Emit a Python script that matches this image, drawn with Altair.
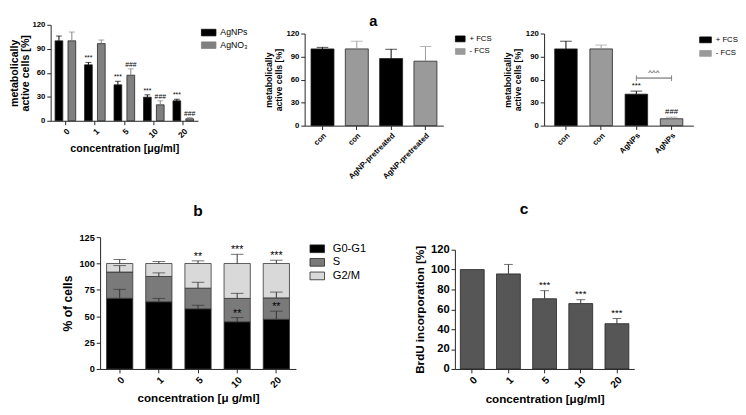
import altair as alt
import pandas as pd

FONT = "Liberation Sans"

# ---------------- panel a (left): metabolic activity vs concentration ----------------
conc = ["0", "1", "5", "10", "20"]
a1_groups = ["AgNPs", "AgNO₃"]
agnp_mean = [100, 70, 45, 29.5, 25]
agnp_sd = [6, 3, 4.4, 3, 2]
agno3_mean = [100, 96.5, 57, 20, 2.5]
agno3_sd = [11, 4.5, 8, 5, 1.5]
agnp_sig = ["", "***", "***", "***", "***"]
agno3_sig = ["", "", "###", "###", "###"]

# ---------------- panel a (middle) ----------------
fcs_groups = ["+ FCS", "- FCS"]
a2_keys = ["con|+", "con|-", "AgNP-pretreated|+", "AgNP-pretreated|-"]
a2_fcs = ["+ FCS", "- FCS", "+ FCS", "- FCS"]
a2_mean = [100, 100, 87.5, 84]
a2_sd = [2, 10, 12, 19]

# ---------------- panel a (right) ----------------
a3_keys = ["con|+", "con|-", "AgNPs|+", "AgNPs|-"]
a3_fcs = ["+ FCS", "- FCS", "+ FCS", "- FCS"]
a3_mean = [100, 100, 41, 9]
a3_sd = [10, 5, 4, 2]
a3_sig = ["", "", "***", "###"]
a3_bracket_from = "AgNPs|+"
a3_bracket_to = "AgNPs|-"
a3_bracket_value = 62
a3_bracket_sig = "^^^"

# ---------------- panel b: cell cycle ----------------
phases = ["G0-G1", "S", "G2/M"]
g0g1 = [67, 63.7, 57, 44.7, 47.1]
g0g1_sd = [8.5, 3.2, 3.4, 4, 7.7]
g0g1_sig = ["", "", "", "**", "**"]
s_phase = [24.9, 24, 19.6, 22.2, 20.3]
s_sd = [6.1, 3.4, 5.6, 4.8, 5.5]
s_sig = ["", "", "", "", ""]
g2m = [8.1, 12.3, 23.4, 33.1, 32.6]
g2m_sd = [3.8, 1.9, 2.5, 8.7, 3.1]
g2m_sig = ["", "", "**", "***", "***"]

# ---------------- panel c: BrdU ----------------
c_mean = [100, 95.7, 70.7, 65.8, 45.6]
c_sd = [0, 9.5, 8.1, 3.9, 5.2]
c_sig = ["", "", "***", "***", "***"]

LBL = "split(datum.label, '|')[0]"


def rect_symbol(h):
    return "M-1,-%sH1V%sH-1Z" % (h, h)


def spacer(w, h):
    return alt.Chart(pd.DataFrame({"s": [0]})).mark_text(text="").encode(
        x=alt.value(0), y=alt.value(0)).properties(width=w, height=h)


# ======== panel a1 ========
df1 = pd.DataFrame({
    "conc": conc * 2,
    "group": [a1_groups[0]] * 5 + [a1_groups[1]] * 5,
    "mean": agnp_mean + agno3_mean,
    "sd": agnp_sd + agno3_sd,
    "sig": agnp_sig + agno3_sig,
})
df1["top"] = df1["mean"] + df1["sd"]

x1 = alt.X("conc:N", sort=conc, scale=alt.Scale(domain=conc, paddingInner=0.3, paddingOuter=0.15),
           axis=alt.Axis(title="concentration [μg/ml]", labelAngle=-45, labelFontSize=8.5,
                         titleFontSize=11, titlePadding=4))
xo1 = alt.XOffset("group:N", sort=a1_groups, scale=alt.Scale(domain=a1_groups, paddingInner=0.4))
ys1 = alt.Scale(domain=[0, 120], nice=False)
ya1 = alt.Axis(values=[0, 30, 60, 90, 120], title=["metabolically", "active cells [%]"],
               titleFontSize=11, titleLineHeight=12, labelFontSize=8, titlePadding=1,
               labelOverlap=False)
col1_scale = alt.Scale(domain=a1_groups, range=["#000000", "#808080"])
c1 = alt.Color("group:N", sort=a1_groups, scale=col1_scale,
               legend=alt.Legend(title=None, orient="right", offset=3, labelFontSize=9,
                                 symbolType=rect_symbol(0.45), symbolSize=225,
                                 symbolStrokeColor="#222", symbolStrokeWidth=0.8,
                                 rowPadding=0, labelOffset=4, padding=0))
c1n = alt.Color("group:N", sort=a1_groups, scale=col1_scale, legend=None)
base1 = alt.Chart(df1).encode(x=x1, xOffset=xo1)
p1 = alt.layer(
    base1.mark_bar(stroke="#222", strokeWidth=0.8).encode(
        y=alt.Y("mean:Q", scale=ys1, axis=ya1), color=c1),
    base1.mark_rule(strokeWidth=1).encode(
        y=alt.Y("mean:Q", scale=ys1, axis=ya1), y2="top:Q", color=c1n),
    base1.mark_tick(thickness=1, size=6).encode(
        y=alt.Y("top:Q", scale=ys1, axis=ya1), color=c1n),
    base1.mark_text(font=FONT, fontSize=7, baseline="bottom", dy=-1, color="black").encode(
        y=alt.Y("top:Q", scale=ys1, axis=ya1), text="sig:N"),
).properties(width=152, height=99)


# ======== panels a2 / a3 ========
def fcs_panel(keys, fcs, mean, sd, sig, pin, pout, legend_offset, sym_h, sym_size):
    df = pd.DataFrame({"key": keys, "fcs": fcs, "mean": mean, "sd": sd, "sig": sig})
    df["top"] = df["mean"] + df["sd"]
    xs = alt.Scale(domain=keys, paddingInner=pin, paddingOuter=pout)
    x = alt.X("key:N", sort=keys, scale=xs,
              axis=alt.Axis(title=None, labelAngle=-45, labelExpr=LBL, labelFontSize=8))
    ys = alt.Scale(domain=[0, 120], nice=False)
    ya = alt.Axis(values=[0, 30, 60, 90, 120], title=["metabolically", "active cells [%]"],
                  titleFontSize=9, titleLineHeight=10, labelFontSize=8, titlePadding=3,
                  labelOverlap=False)
    sc = alt.Scale(domain=fcs_groups, range=["#000000", "#9a9a9a"])
    col = alt.Color("fcs:N", sort=fcs_groups, scale=sc,
                    legend=alt.Legend(title=None, orient="right", offset=legend_offset, labelFontSize=8,
                                      symbolType=rect_symbol(sym_h), symbolSize=sym_size,
                                      symbolStrokeColor="#222", symbolStrokeWidth=0.8,
                                      rowPadding=2, labelOffset=4, padding=0))
    coln = alt.Color("fcs:N", sort=fcs_groups, scale=sc, legend=None)
    base = alt.Chart(df).encode(x=x)
    layers = [
        base.mark_bar(stroke="#222", strokeWidth=0.8).encode(
            y=alt.Y("mean:Q", scale=ys, axis=ya), color=col),
        base.mark_rule(strokeWidth=1).encode(
            y=alt.Y("mean:Q", scale=ys, axis=ya), y2="top:Q", color=coln),
        base.mark_tick(thickness=1, size=12).encode(
            y=alt.Y("top:Q", scale=ys, axis=ya), color=coln),
        base.mark_text(font=FONT, fontSize=8, baseline="bottom", dy=-1, color="black").encode(
            y=alt.Y("top:Q", scale=ys, axis=ya), text="sig:N"),
    ]
    return layers, xs, ys, ya


l2, _, _, _ = fcs_panel(a2_keys, a2_fcs, a2_mean, a2_sd, [""] * 4, 0.33, 0.185, 12, 0.6, 100)
p2 = alt.layer(*l2).properties(width=143, height=95)

l3, x3s, y3s, y3a = fcs_panel(a3_keys, a3_fcs, a3_mean, a3_sd, a3_sig, 0.36, 0.3, 6, 0.5, 144)
br_df = pd.DataFrame({"a": [a3_bracket_from], "b": [a3_bracket_to], "v": [a3_bracket_value],
                      "t": [a3_bracket_sig]})
cap_df = pd.DataFrame({"key": [a3_bracket_from, a3_bracket_to], "v": [a3_bracket_value] * 2})
bracket = alt.Chart(br_df).mark_rule(color="#555", strokeWidth=1).encode(
    x=alt.X("a:N", scale=x3s), x2="b:N", y=alt.Y("v:Q", scale=y3s, axis=y3a))
bracket_caps = alt.Chart(cap_df).mark_tick(color="#555", orient="vertical", size=6, thickness=1).encode(
    x=alt.X("key:N", scale=x3s), y=alt.Y("v:Q", scale=y3s, axis=y3a))
bracket_txt = alt.Chart(br_df).mark_text(
    font=FONT, fontSize=8, baseline="bottom", dy=-1, dx=18, color="#222").encode(
    x=alt.X("a:N", scale=x3s), y=alt.Y("v:Q", scale=y3s, axis=y3a), text="t:N")
p3 = alt.layer(*l3, bracket, bracket_caps, bracket_txt).properties(width=154, height=95)

# ======== panel b ========
b_rows = []
for ph, vals, sds, sigs in [("G0-G1", g0g1, g0g1_sd, g0g1_sig), ("S", s_phase, s_sd, s_sig),
                            ("G2/M", g2m, g2m_sd, g2m_sig)]:
    for c, v, s, g in zip(conc, vals, sds, sigs):
        b_rows.append({"conc": c, "phase": ph, "value": v, "sd": s, "sig": g})
dfb = pd.DataFrame(b_rows)
dfb["end"] = dfb.groupby("conc")["value"].cumsum()
dfb["start"] = dfb["end"] - dfb["value"]
dfb["top"] = dfb["end"] + dfb["sd"]

xb = alt.X("conc:N", sort=conc, scale=alt.Scale(domain=conc, paddingInner=0.33, paddingOuter=0.165),
           axis=alt.Axis(title="concentration [μ g/ml]", labelAngle=-45, labelFontSize=10,
                         titleFontSize=12, titlePadding=4))
ybs = alt.Scale(domain=[0, 125], nice=False)
yba = alt.Axis(values=[0, 25, 50, 75, 100, 125], title="% of cells", titleFontSize=12.5,
               labelFontSize=9.5, titlePadding=5, labelOverlap=False)
bsc = alt.Scale(domain=phases, range=["#000000", "#7a7a7a", "#d9d9d9"])
cb = alt.Color("phase:N", sort=phases, scale=bsc,
               legend=alt.Legend(title=None, orient="right", offset=10, labelFontSize=11.5,
                                 symbolType=rect_symbol(0.53), symbolSize=225,
                                 symbolStrokeColor="#222", symbolStrokeWidth=0.8,
                                 rowPadding=0, labelOffset=8, padding=4))
baseb = alt.Chart(dfb).encode(x=xb)
pb = alt.layer(
    baseb.mark_bar(stroke="#333", strokeWidth=0.8).encode(
        y=alt.Y("start:Q", scale=ybs, axis=yba), y2="end:Q", color=cb),
    baseb.mark_rule(color="#333", strokeWidth=1).encode(
        y=alt.Y("end:Q", scale=ybs, axis=yba), y2="top:Q"),
    baseb.mark_tick(color="#333", thickness=1, size=13).encode(
        y=alt.Y("top:Q", scale=ybs, axis=yba)),
    baseb.mark_text(font=FONT, fontSize=11, baseline="bottom", dy=1, color="black").encode(
        y=alt.Y("top:Q", scale=ybs, axis=yba), text="sig:N"),
).properties(width=202, height=136,
             title=alt.TitleParams("b", anchor="middle", fontSize=16, offset=14))

# ======== panel c ========
dfc = pd.DataFrame({"conc": conc, "mean": c_mean, "sd": c_sd, "sig": c_sig})
dfc["top"] = dfc["mean"] + dfc["sd"]
xc = alt.X("conc:N", sort=conc, scale=alt.Scale(domain=conc, paddingInner=0.34, paddingOuter=0.15),
           axis=alt.Axis(title="concentration [μg/ml]", labelAngle=-45, labelFontSize=10.5,
                         titleFontSize=12, titlePadding=4))
ycs = alt.Scale(domain=[0, 120], nice=False)
yca = alt.Axis(values=[0, 20, 40, 60, 80, 100, 120], title="BrdU incorporation [%]",
               titleFontSize=12, labelFontSize=11.5, titlePadding=4, labelOverlap=False)
basec = alt.Chart(dfc).encode(x=xc)
errc = alt.Chart(dfc).transform_filter("datum.sd > 0").encode(x=xc)
pc = alt.layer(
    basec.mark_bar(color="#565656", stroke="#222", strokeWidth=0.8).encode(
        y=alt.Y("mean:Q", scale=ycs, axis=yca)),
    errc.mark_rule(color="#333", strokeWidth=1).encode(
        y=alt.Y("mean:Q", scale=ycs, axis=yca), y2="top:Q"),
    errc.mark_tick(color="#333", thickness=1, size=9).encode(
        y=alt.Y("top:Q", scale=ycs, axis=yca)),
    basec.mark_text(font=FONT, fontSize=10, baseline="bottom", dy=-1, color="black").encode(
        y=alt.Y("top:Q", scale=ycs, axis=yca), text="sig:N"),
).properties(width=185, height=123)

IND = dict(color="independent", x="independent", y="independent")

p2col = alt.ConcatChart(concat=[spacer(10, 2), p2], columns=1, align="none", spacing=0).resolve_scale(**IND)
p3col = alt.ConcatChart(concat=[spacer(10, 1), p3], columns=1, align="none", spacing=0).resolve_scale(**IND)
right_top = alt.ConcatChart(concat=[p2col, p3col], columns=2, align="none", spacing=12).resolve_scale(
    **IND).resolve_legend(color="independent")
top = alt.ConcatChart(
    concat=[p1, right_top], columns=2, align="none", spacing=16,
    title=alt.TitleParams("a", anchor="middle", fontSize=15, offset=-10),
).resolve_scale(**IND).resolve_legend(color="independent")

ccol = alt.ConcatChart(concat=[spacer(10, 7), pc], columns=1, align="none", spacing=0,
                       title=alt.TitleParams("c", anchor="middle", fontSize=16, offset=15)
                       ).resolve_scale(**IND)
inner = alt.ConcatChart(concat=[pb, ccol], columns=2, align="none", spacing=44).resolve_scale(
    **IND).resolve_legend(color="independent")
bottom = alt.ConcatChart(concat=[spacer(11, 10), inner], columns=2, align="none", spacing=0).resolve_scale(
    **IND).resolve_legend(color="independent")

chart = alt.ConcatChart(concat=[top, bottom], columns=1, align="none", spacing=21).resolve_scale(
    **IND).resolve_legend(color="independent").properties(
    padding=0, background="white"
).configure_view(stroke=None).configure_axis(
    labelFont=FONT, titleFont=FONT, labelFontWeight="bold", titleFontWeight="bold",
    labelColor="#000", titleColor="#000", domainColor="#222", tickColor="#222",
    tickSize=4, grid=False, domainWidth=1, tickWidth=1, labelOverlap=False
).configure_legend(labelFont=FONT, labelColor="#000").configure_title(
    font=FONT, fontWeight="bold", color="#000")

chart.save("out.html", embed_options={"renderer": "svg", "actions": False})
